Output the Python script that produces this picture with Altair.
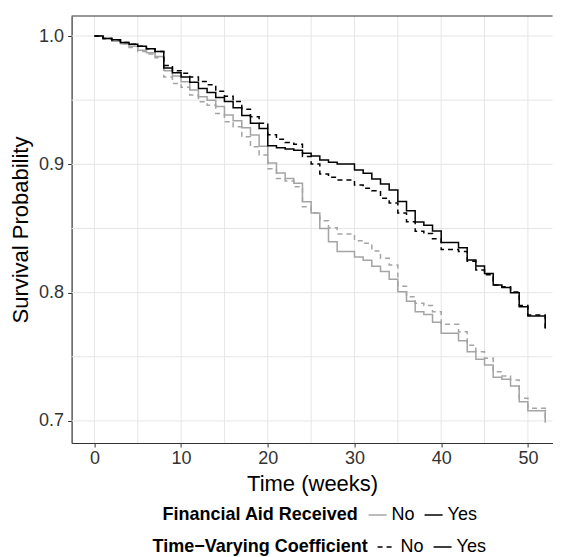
import altair as alt
import pandas as pd

weeks = list(range(53))

# Financial aid = Yes, time-varying coefficient = Yes (black solid)
aid_yes_tvc = [1.000, 0.998, 0.997, 0.995, 0.9935, 0.992, 0.990, 0.988,
               0.975, 0.9714, 0.968, 0.964, 0.959, 0.956, 0.952, 0.949, 0.944, 0.938, 0.932, 0.928,
               0.9145, 0.913, 0.912, 0.911, 0.9086, 0.9065, 0.9034, 0.9016, 0.9002, 0.9002,
               0.8956, 0.893, 0.8885, 0.8846, 0.880, 0.871, 0.8638, 0.855, 0.8525, 0.848,
               0.839, 0.839, 0.835, 0.8254, 0.8207, 0.815, 0.806, 0.804, 0.800, 0.789,
               0.7818, 0.7818, 0.772]
# Financial aid = Yes, time-varying coefficient = No (black dashed)
aid_yes_const = [1.000, 0.998, 0.997, 0.995, 0.9935, 0.992, 0.990, 0.988,
                 0.977, 0.973, 0.971, 0.968, 0.9645, 0.962, 0.957, 0.953, 0.949, 0.943, 0.937, 0.932,
                 0.923, 0.9195, 0.917, 0.9156, 0.906, 0.9002, 0.8924, 0.8899, 0.8878, 0.8878,
                 0.8839, 0.8813, 0.8794, 0.8735, 0.8698, 0.862, 0.8553, 0.8478, 0.846, 0.842,
                 0.8337, 0.8337, 0.832, 0.8245, 0.8176, 0.814, 0.806, 0.8046, 0.8005, 0.790,
                 0.7825, 0.7825, 0.772]
# Financial aid = No, time-varying coefficient = Yes (grey solid)
aid_no_tvc = [1.000, 0.998, 0.996, 0.994, 0.992, 0.989, 0.987, 0.984,
              0.973, 0.9688, 0.9644, 0.958, 0.9527, 0.950, 0.945, 0.9384, 0.934, 0.9285, 0.9228, 0.914,
              0.901, 0.8933, 0.889, 0.8852, 0.8709, 0.862, 0.850, 0.8397, 0.832, 0.832,
              0.8277, 0.8252, 0.8205, 0.8165, 0.8104, 0.8007, 0.7933, 0.785, 0.783, 0.777,
              0.7683, 0.7683, 0.7625, 0.754, 0.748, 0.7436, 0.734, 0.7324, 0.7272, 0.715,
              0.708, 0.708, 0.6986]
# Financial aid = No, time-varying coefficient = No (grey dashed)
aid_no_const = [1.000, 0.998, 0.996, 0.994, 0.991, 0.988, 0.986, 0.983,
                0.968, 0.963, 0.960, 0.954, 0.9488, 0.946, 0.9397, 0.9332, 0.9293, 0.9215, 0.9137, 0.9072,
                0.8965, 0.889, 0.887, 0.8825, 0.867, 0.862, 0.856, 0.8506, 0.8457, 0.8457,
                0.8405, 0.8384, 0.8325, 0.8267, 0.8215, 0.805, 0.7968, 0.7917, 0.790, 0.7851,
                0.7753, 0.7753, 0.7695, 0.759, 0.754, 0.7488, 0.7384, 0.735, 0.7319, 0.7176,
                0.7098, 0.7098, 0.699]

x_ticks = [0, 10, 20, 30, 40, 50]
x_grid = [0, 5, 10, 15, 20, 25, 30, 35, 40, 45, 50]
y_ticks = [0.7, 0.8, 0.9, 1.0]
y_grid = [0.7, 0.75, 0.8, 0.85, 0.9, 0.95, 1.0]

series = [("No", "No", aid_no_const), ("No", "Yes", aid_no_tvc),
          ("Yes", "No", aid_yes_const), ("Yes", "Yes", aid_yes_tvc)]
rows = []
for aid, tvc, vals in series:
    for w, v in zip(weeks, vals):
        rows.append({"week": w, "surv": v, "aid": aid, "tvc": tvc, "grp": aid + "-" + tvc})
df = pd.DataFrame(rows)

FONT = "Liberation Sans"
W, H = 481, 427

xs = alt.Scale(domain=[-2.63, 52.85], nice=False, zero=False)
ys = alt.Scale(domain=[0.6828, 1.0156], nice=False, zero=False)

x_axis = alt.Axis(values=x_ticks, grid=False, title="Time (weeks)", format="d",
                  labelFontSize=18, labelColor="#333333", labelPadding=3,
                  titleFontSize=22, titleFontWeight="normal", titleColor="black", titlePadding=6,
                  tickSize=4, tickColor="#333333", domainColor="#333333", domainWidth=1.2)
y_axis = alt.Axis(values=y_ticks, grid=False, title="Survival Probability", format=".1f",
                  labelFontSize=18, labelColor="#333333", labelPadding=4,
                  titleFontSize=22, titleFontWeight="normal", titleColor="black", titlePadding=6,
                  tickSize=4, tickColor="#333333", domainColor="#333333", domainWidth=1.2)

vgrid = alt.Chart(pd.DataFrame({"g": x_grid})).mark_rule(color="#e6e6e6", strokeWidth=1).encode(
    x=alt.X("g:Q", scale=xs, axis=x_axis))
hgrid = alt.Chart(pd.DataFrame({"g": y_grid})).mark_rule(color="#e6e6e6", strokeWidth=1).encode(
    y=alt.Y("g:Q", scale=ys, axis=y_axis))

legend_common = dict(orient="none", direction="horizontal", titleOrient="left",
                     titleFontSize=18, titleFontWeight="bold", titleColor="black", titleLimit=400,
                     labelFontSize=18, labelColor="black", symbolType="stroke", symbolSize=324,
                     symbolStrokeWidth=1.5, labelOffset=4, columnPadding=6, titlePadding=8)

lines = alt.Chart(df).mark_line(interpolate="step-after", strokeWidth=1.5).encode(
    x=alt.X("week:Q", scale=xs, axis=x_axis),
    y=alt.Y("surv:Q", scale=ys, axis=y_axis),
    color=alt.Color("aid:N", scale=alt.Scale(range=["#a4a4a4", "#000000"]),
                    legend=alt.Legend(title="Financial Aid Received", legendX=91, legendY=489,
                                      **legend_common)),
    strokeDash=alt.StrokeDash("tvc:N", scale=alt.Scale(range=[[5, 4], [1, 0]]),
                              legend=alt.Legend(title="Time\u2212Varying Coefficient", legendX=81,
                                                legendY=521, symbolStrokeColor="black",
                                                **legend_common)),
    detail="grp:N",
)

top_border = alt.Chart(pd.DataFrame({"a": [0]})).mark_rule(color="#333333", strokeWidth=1.2).encode(
    x=alt.value(0), x2=alt.value(W), y=alt.value(0))

chart = alt.layer(vgrid, hgrid, lines, top_border).properties(
    width=W, height=H,
    autosize=alt.AutoSizeParams(type="none"),
    padding={"left": 63.6, "top": 8, "right": 0, "bottom": 114},
).configure(font=FONT).configure_view(stroke=None)

chart.save("out.html", embed_options={"renderer": "svg", "actions": False})
